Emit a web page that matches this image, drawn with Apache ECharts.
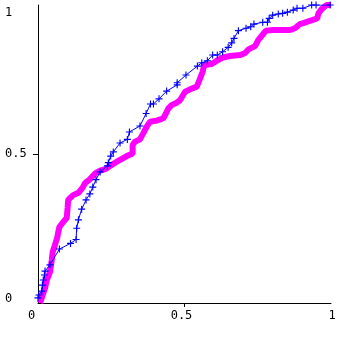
<!DOCTYPE html>
<html>
<head>
<meta charset="utf-8">
<script src="https://cdn.jsdelivr.net/npm/echarts@6/dist/echarts.min.js"></script>
<style>
html,body{margin:0;padding:0;background:#fff;}
#c{width:339px;height:337px;}
</style>
</head>
<body>
<div id="c"></div>
<script>
// Tick labels
var xTickLabels = [0, 0.5, 1];
var yTickLabels = [0, 0.5, 1];

// Magenta series (x, y)
var magentaX = [0.007,0.016,0.024,0.030,0.041,0.047,0.050,0.058,0.066,0.069,0.073,0.086,0.098,0.101,0.103,0.120,0.138,0.153,0.160,0.177,0.195,0.212,0.229,0.246,0.269,0.280,0.303,0.323,0.323,0.331,0.348,0.359,0.371,0.382,0.405,0.428,0.437,0.445,0.456,0.473,0.485,0.502,0.519,0.542,0.551,0.562,0.567,0.593,0.610,0.632,0.655,0.689,0.706,0.718,0.741,0.752,0.763,0.778,0.803,0.860,0.877,0.894,0.911,0.928,0.953,0.957,0.968,0.985,1.000];
var magentaY = [0.000,0.027,0.050,0.077,0.104,0.144,0.171,0.195,0.221,0.238,0.255,0.272,0.285,0.319,0.346,0.362,0.370,0.388,0.402,0.415,0.435,0.444,0.449,0.460,0.474,0.480,0.493,0.502,0.530,0.541,0.549,0.569,0.592,0.608,0.612,0.620,0.637,0.653,0.664,0.672,0.681,0.709,0.717,0.726,0.748,0.776,0.799,0.802,0.813,0.824,0.829,0.832,0.838,0.851,0.862,0.883,0.896,0.914,0.916,0.916,0.922,0.936,0.941,0.947,0.955,0.972,0.986,1.000,1.000];

// Blue series (x, y)
var blueX = [0.000,0.003,0.013,0.015,0.018,0.022,0.024,0.041,0.073,0.111,0.130,0.132,0.138,0.149,0.164,0.177,0.187,0.198,0.212,0.237,0.240,0.248,0.257,0.280,0.305,0.312,0.348,0.369,0.384,0.394,0.413,0.439,0.475,0.475,0.505,0.544,0.559,0.578,0.596,0.612,0.630,0.649,0.661,0.669,0.684,0.710,0.726,0.737,0.767,0.783,0.789,0.801,0.820,0.835,0.851,0.871,0.884,0.904,0.934,0.949,0.997];
var blueY = [0.017,0.027,0.040,0.060,0.077,0.094,0.107,0.128,0.181,0.200,0.213,0.251,0.279,0.315,0.346,0.366,0.389,0.414,0.440,0.460,0.471,0.493,0.507,0.537,0.549,0.574,0.594,0.636,0.668,0.668,0.685,0.711,0.732,0.739,0.765,0.795,0.806,0.813,0.832,0.832,0.843,0.858,0.873,0.888,0.914,0.922,0.927,0.936,0.942,0.942,0.955,0.966,0.970,0.972,0.976,0.983,0.989,0.989,1.000,1.000,1.000];

function zip(a, b) { return a.map(function (v, i) { return [v, b[i]]; }); }

var font = '"DejaVu Sans Mono", monospace';
var chart = echarts.init(document.getElementById('c'), null, {renderer: 'canvas'});
chart.setOption({
  backgroundColor: '#ffffff',
  animation: false,
  grid: {left: 38, right: 8, top: 5, bottom: 34},
  xAxis: {
    type: 'value', min: 0, max: 1,
    splitLine: {show: false},
    axisLine: {show: true, onZero: false, lineStyle: {color: '#000', width: 1}},
    axisTick: {show: true, customValues: [0.5], length: 4, lineStyle: {color: '#000'}},
    axisLabel: {
      customValues: xTickLabels, margin: 7, color: '#000',
      fontFamily: font, fontSize: 12,
      formatter: function (v) {
        if (v === 0) return '{a|0}';
        if (v === 1) return '{c|1}';
        return '{b|' + v + '}';
      },
      rich: {
        a: {fontFamily: font, fontSize: 12, color: '#000', padding: [0, 13, 0, 0]},
        b: {fontFamily: font, fontSize: 12, color: '#000', padding: [0, 6, 0, 0]},
        c: {fontFamily: font, fontSize: 12, color: '#000', padding: [0, 0, 0, 2]}
      }
    }
  },
  yAxis: {
    type: 'value', min: 0, max: 1,
    splitLine: {show: false},
    axisLine: {show: true, onZero: false, lineStyle: {color: '#000', width: 1}},
    axisTick: {show: true, customValues: [0.5], length: 5, lineStyle: {color: '#000'}},
    axisLabel: {
      customValues: yTickLabels, margin: 33, align: 'left', color: '#000',
      fontFamily: font, fontSize: 12,
      formatter: function (v) {
        if (v === 0) return '{a|0}';
        if (v === 1) return '{c|1}';
        return '{b|' + v + '}';
      },
      rich: {
        a: {fontFamily: font, fontSize: 12, color: '#000', padding: [0, 0, 9, 0]},
        b: {fontFamily: font, fontSize: 12, color: '#000'},
        c: {fontFamily: font, fontSize: 12, color: '#000', padding: [16, 0, 0, 0]}
      }
    }
  },
  series: [
    {
      type: 'line', data: zip(magentaX, magentaY),
      showSymbol: false, symbol: 'none',
      lineStyle: {color: '#ff00ff', width: 6},
      z: 2
    },
    {
      type: 'line', data: zip(blueX, blueY),
      symbol: 'path://M0.42,0H0.58V0.42H1V0.58H0.58V1H0.42V0.58H0V0.42H0.42Z',
      symbolSize: 7,
      itemStyle: {color: '#0000ff'},
      lineStyle: {color: '#0000ff', width: 1},
      z: 3
    }
  ]
});
</script>
</body>
</html>
